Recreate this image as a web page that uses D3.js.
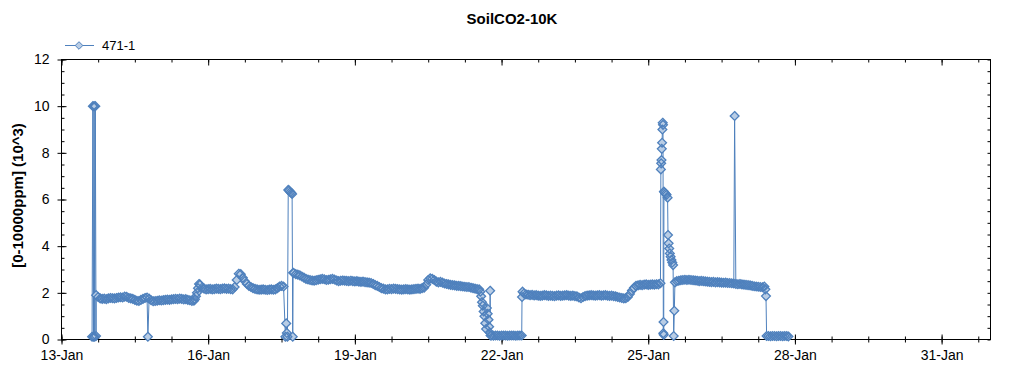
<!DOCTYPE html>
<html>
<head>
<meta charset="utf-8">
<script src="https://cdn.jsdelivr.net/npm/d3@7"></script>
<style>
  html, body { margin: 0; padding: 0; background: #fff; }
  svg { display: block; font-family: "Liberation Sans", Arial, sans-serif; }
</style>
</head>
<body>
<svg id="chart" width="1024" height="375"></svg>
<script>
// ---------------- DATA ----------------
const chartTitle = "SoilCO2-10K";
const yAxisTitle = "[0-10000ppm] (10^3)";
const seriesName = "471-1";
const startDay = [2021, 0, 13];   // 13-Jan, hour 0 = origin of all hour offsets
const endDay = [2021, 1, 1];      // 1-Feb
const yTickValues = [0, 2, 4, 6, 8, 10, 12];
const xLabelDays = [0, 3, 6, 9, 12, 15, 18];   // 13-Jan ... 31-Jan

// hourly readings: start hour + values
const seg1Start = 17;
const seg1 = [1.9,1.82,1.76,1.74,1.75,1.73,1.76,1.78,1.77,1.76,1.78,1.8,1.81,1.8,1.84,1.83,1.78,1.76,1.74,1.7,1.66,1.65,1.7,1.74,1.78,1.8];
const seg2Start = 43;
const seg2 = [1.75,1.68,1.64,1.65,1.66,1.68,1.67,1.69,1.7,1.71,1.7,1.72,1.73,1.74,1.73,1.75,1.74,1.72,1.73,1.7,1.68,1.65,1.66];
const seg3Start = 68;
const seg3 = [2.35,2.22,2.18,2.15,2.16,2.17,2.15,2.16,2.18,2.17,2.16,2.18,2.19,2.17,2.18,2.16,2.15,2.25,2.55,2.82,2.8,2.65,2.5,2.38,2.3,2.25,2.2,2.17,2.15,2.13,2.14,2.15,2.13,2.12,2.14,2.15,2.13,2.15,2.2,2.27,2.3,2.27];
const seg4Start = 114;
const seg4 = [2.85,2.8,2.78,2.75,2.7,2.65,2.6,2.57,2.55,2.53,2.52,2.54,2.56,2.58,2.6,2.58,2.55,2.56,2.58,2.6,2.57,2.53,2.5,2.52,2.53,2.52,2.51,2.5,2.52,2.5,2.49,2.5,2.48,2.47,2.48,2.46,2.45,2.44,2.42,2.38,2.33,2.3,2.25,2.2,2.18,2.15,2.15,2.17,2.16,2.18,2.17,2.16,2.15,2.14,2.15,2.16,2.15,2.14,2.15,2.16,2.17,2.18,2.17,2.2,2.22,2.35,2.55,2.62,2.6,2.55,2.48,2.45,2.47,2.44,2.4,2.38,2.36,2.34,2.33,2.32,2.3,2.3,2.29,2.27,2.26,2.25,2.25,2.22,2.2,2.18,2.16,2.15];
const seg5Start = 211;
const seg5 = [0.17,0.16,0.17,0.17,0.16,0.17,0.17,0.17,0.16,0.17,0.17,0.17,0.16,0.17,0.17];
const seg6Start = 227;
const seg6 = [1.97,1.93,1.92,1.9,1.91,1.89,1.9,1.88,1.87,1.88,1.9,1.89,1.87,1.88,1.87,1.86,1.88,1.89,1.87,1.88,1.89,1.9,1.88,1.87,1.88,1.86,1.85,1.8,1.77,1.82,1.86,1.88,1.89,1.9,1.89,1.88,1.89,1.9,1.88,1.89,1.9,1.88,1.87,1.88,1.86,1.85,1.82,1.8,1.78,1.76,1.77,1.82,1.95,2.1,2.22,2.3,2.32,2.34,2.33,2.35,2.36,2.34,2.35,2.36,2.35,2.37,2.36,2.41];
const seg7Start = 302;
const seg7 = [2.5,2.52,2.54,2.55,2.56,2.55,2.56,2.55,2.54,2.53,2.52,2.5,2.51,2.5,2.49,2.48,2.47,2.46,2.47,2.45,2.46,2.45,2.44,2.43,2.44,2.42,2.42,2.41,2.4];
const seg8Start = 331;
const seg8 = [2.38,2.37,2.38,2.36,2.35,2.34,2.33,2.32,2.3,2.28,2.27,2.26,2.25,2.24,2.27];
const seg9Start = 347;
const seg9 = [0.15,0.14,0.15,0.15,0.14,0.15,0.15,0.14,0.15,0.15];

// irregular readings around jumps and spikes: [hour, value]
const eventsStartup = [[15,0.12],[15.4,10.0],[15.7,0.12],[16.0,10.0],[16.3,0.12],[16.6,10.0],[16.95,0.15]];
const eventsJan14 = [[42.4,0.12]];
const eventsJan15 = [[65.5,1.72],[66,1.85],[66.5,2.0],[67,2.2],[67.5,2.38]];
const eventsJan17 = [[109.9,0.12],[110.3,0.69],[110.6,0.28],[110.9,0.12],[111.3,6.41],[111.8,6.38],[112.3,6.32],[112.8,6.28],[113.2,6.24],[113.5,0.12],[113.7,2.86]];
const eventsJan21 = [[205.6,2.05],[206,1.85],[206.4,1.6],[206.8,1.45],[207.2,1.2],[207.6,1.0],[208,0.7],[208.4,0.45],[208.8,1.35],[209.2,1.1],[209.6,0.85],[209.9,0.55],[210.2,0.3],[210.4,2.09],[210.6,0.17]];
const eventsJan22 = [[225.9,0.17],[226.05,1.82],[226.3,2.05]];
const eventsJan25 = [[294.2,7.29],[294.35,7.55],[294.5,7.69],[294.65,8.17],[294.8,8.43],[294.95,9.0],[295.1,9.29],[295.25,9.2],[295.4,0.27],[295.5,0.75],[295.6,0.2],[295.7,6.34],[296,6.3],[296.5,6.25],[297,6.2],[297.5,6.08],[297.7,4.48],[298,4.12],[298.3,3.9],[298.6,3.69],[299,3.55],[299.4,3.41],[299.8,3.3],[300.2,3.19],[300.5,0.15],[300.8,1.23],[301.1,2.45]];
const eventsJan26 = [[330.4,9.58]];
const eventsJan27 = [[345.5,2.15],[345.8,1.86],[346.1,0.15],[356.8,0.13]];

// ---------------- BUILD ----------------
const t0 = new Date(...startDay);
const hourToDate = h => new Date(t0.getTime() + h * 3600e3);
const hourly = [[seg1Start,seg1],[seg2Start,seg2],[seg3Start,seg3],[seg4Start,seg4],[seg5Start,seg5],[seg6Start,seg6],[seg7Start,seg7],[seg8Start,seg8],[seg9Start,seg9]];
const events = [eventsStartup,eventsJan14,eventsJan15,eventsJan17,eventsJan21,eventsJan22,eventsJan25,eventsJan26,eventsJan27];
let pts = [];
hourly.forEach(([s, vals]) => vals.forEach((v, i) => pts.push([s + i, v])));
events.forEach(arr => arr.forEach(p => pts.push(p)));
pts.sort((a, b) => a[0] - b[0]);
const data = pts.map(([h, v]) => ({ date: hourToDate(h), value: v }));

// ---------------- DRAW ----------------
const svg = d3.select("#chart");
const L = 61.5, R = 990.5, T = 59.5, B = 339.5;
const x = d3.scaleTime().domain([t0, new Date(...endDay)]).range([L, R]);
const y = d3.scaleLinear().domain([0, 12]).range([B, T]);

const majorX = xLabelDays.map(d => hourToDate(d * 24));
const minorX = d3.range(0, 19 * 24 + 1, 18).map(hourToDate);
const minorY = d3.range(0, 12.01, 0.5);
const fmt = d3.timeFormat("%-d-%b");

const BLUE = "#4f81bd", FILL = "#b9cde5";

// title
svg.append("text").attr("x", 512).attr("y", 24).attr("text-anchor", "middle")
  .attr("font-weight", "bold").attr("font-size", 15).text(chartTitle);

// y axis title
svg.append("text").attr("transform", `translate(22.5,${(T + B) / 2 - 4}) rotate(-90)`)
  .attr("text-anchor", "middle").attr("font-weight", "bold").attr("font-size", 15).text(yAxisTitle);

// frame
svg.append("rect").attr("x", L).attr("y", T).attr("width", R - L).attr("height", B - T)
  .attr("fill", "none").attr("stroke", "#000").attr("stroke-width", 1);

// bottom axis: minor ticks
const gxm = svg.append("g").attr("transform", `translate(0,${B})`)
  .call(d3.axisBottom(x).tickValues(minorX).tickSize(3).tickFormat(""));
gxm.select(".domain").remove();
gxm.selectAll(".tick line").attr("y1", -3).attr("stroke", "#000");
// bottom axis: major ticks + labels
const gx = svg.append("g").attr("transform", `translate(0,${B})`)
  .call(d3.axisBottom(x).tickValues(majorX).tickSize(5).tickPadding(6).tickFormat(fmt));
gx.select(".domain").remove();
gx.selectAll(".tick line").attr("y1", -5).attr("stroke", "#000");
gx.selectAll(".tick text").attr("font-size", 14).attr("fill", "#000").attr("font-family", "Liberation Sans, Arial, sans-serif");

// top axis ticks
const gxt = svg.append("g").attr("transform", `translate(0,${T})`)
  .call(d3.axisTop(x).tickValues(minorX).tickSize(-3).tickFormat(""));
gxt.select(".domain").remove();
gxt.selectAll(".tick line").attr("stroke", "#000");
const gxt2 = svg.append("g").attr("transform", `translate(0,${T})`)
  .call(d3.axisTop(x).tickValues(majorX).tickSize(-6).tickFormat(""));
gxt2.select(".domain").remove();
gxt2.selectAll(".tick line").attr("stroke", "#000");

// left axis minor ticks (inside)
const gym = svg.append("g").attr("transform", `translate(${L},0)`)
  .call(d3.axisLeft(y).tickValues(minorY).tickSize(-3).tickFormat(""));
gym.select(".domain").remove();
gym.selectAll(".tick line").attr("stroke", "#000");
// left axis major ticks + labels
const gy = svg.append("g").attr("transform", `translate(${L},0)`)
  .call(d3.axisLeft(y).tickValues(yTickValues).tickSize(4).tickPadding(8).tickFormat(d3.format("d")));
gy.select(".domain").remove();
gy.selectAll(".tick line").attr("x2", -4).attr("x1", 5).attr("stroke", "#000");
gy.selectAll(".tick text").attr("font-size", 14).attr("fill", "#000").attr("font-family", "Liberation Sans, Arial, sans-serif");

// right axis ticks (inside)
const gyr = svg.append("g").attr("transform", `translate(${R},0)`)
  .call(d3.axisRight(y).tickValues(minorY).tickSize(-3).tickFormat(""));
gyr.select(".domain").remove();
gyr.selectAll(".tick line").attr("stroke", "#000");

// series line
const line = d3.line().x(d => x(d.date)).y(d => y(d.value));
svg.append("path").datum(data).attr("d", line)
  .attr("fill", "none").attr("stroke", BLUE).attr("stroke-width", 1);

// markers: fills first, outlines on top
const diamond = "M0,-4.4L4.4,0L0,4.4L-4.4,0Z";
const pos = d => `translate(${x(d.date)},${y(d.value)})`;
svg.append("g").selectAll("path").data(data).join("path")
  .attr("transform", pos).attr("d", diamond).attr("fill", FILL).attr("stroke", "none");
svg.append("g").selectAll("path").data(data).join("path")
  .attr("transform", pos).attr("d", diamond).attr("fill", "none").attr("stroke", BLUE).attr("stroke-width", 1.3);

// legend
const lg = svg.append("g");
lg.append("line").attr("x1", 65).attr("x2", 94).attr("y1", 45.5).attr("y2", 45.5)
  .attr("stroke", BLUE).attr("stroke-width", 1);
lg.append("path").attr("transform", "translate(79,45.5)").attr("d", "M0,-3.8L3.8,0L0,3.8L-3.8,0Z")
  .attr("fill", FILL).attr("stroke", BLUE);
lg.append("text").attr("x", 102).attr("y", 50).attr("font-size", 13).attr("fill", "#000").text(seriesName);
</script>
</body>
</html>
